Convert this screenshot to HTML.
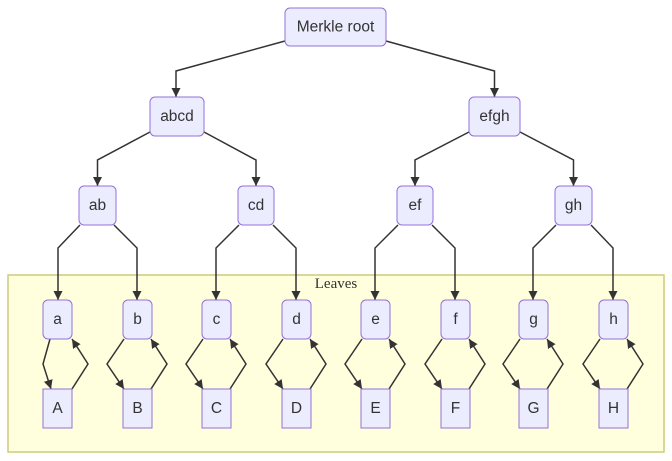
<!DOCTYPE html>
<html><head><meta charset="utf-8"><style>
html,body{margin:0;padding:0;background:#fff;width:672px;height:461px;overflow:hidden}
svg{display:block}
.n{fill:#ECECFF;stroke:#9370DB;stroke-width:1}
.t{font-family:"Liberation Sans",sans-serif;font-size:15.5px;fill:#333;text-anchor:middle;dominant-baseline:central}
.e{fill:none;stroke:#333;stroke-width:1.5}
</style></head><body>
<svg width="672" height="461" viewBox="0 0 672 461" xmlns="http://www.w3.org/2000/svg">
<defs><marker id="ar" viewBox="0 0 10 10" refX="10" refY="5" markerWidth="9" markerHeight="9" markerUnits="userSpaceOnUse" orient="auto"><path d="M0,0L10,5L0,10z" fill="#333"/></marker></defs>
<rect x="8" y="275" width="656" height="177" fill="#FFFFDE" stroke="#CCCC7A" stroke-width="1.5"/>
<text x="336" y="284" font-family="Liberation Serif,serif" font-size="15" fill="#333" text-anchor="middle" dominant-baseline="central">Leaves</text>
<g marker-end="url(#ar)">
<path class="e" d="M285,41L176,71L176,97"/>
<path class="e" d="M386,41L494.5,71L494.5,97"/>
<path class="e" d="M150,132L97.5,160L97.5,186"/>
<path class="e" d="M204,132L256,160L256,186"/>
<path class="e" d="M469,132L415,160L415,186"/>
<path class="e" d="M520,132L573.5,160L573.5,186"/>
<path class="e" d="M80,225L58,248L58,300"/>
<path class="e" d="M114,225L137,248L137,300"/>
<path class="e" d="M239,225L216,248L216,300"/>
<path class="e" d="M273,225L296,248L296,300"/>
<path class="e" d="M398,225L375,248L375,300"/>
<path class="e" d="M432,225L455,248L455,300"/>
<path class="e" d="M556,225L533,248L533,300"/>
<path class="e" d="M591,225L613,248L613,300"/>
<path class="e" d="M50,339L43,364L51,389"/>
<path class="e" d="M72,389L88,364L72,339"/>
<path class="e" d="M124,339L107,364L124,389"/>
<path class="e" d="M151,389L167,364L151,339"/>
<path class="e" d="M203,339L186,364L203,389"/>
<path class="e" d="M230,389L246,364L230,339"/>
<path class="e" d="M283,339L266,364L283,389"/>
<path class="e" d="M310,389L326,364L310,339"/>
<path class="e" d="M362,339L345,364L362,389"/>
<path class="e" d="M389,389L405,364L389,339"/>
<path class="e" d="M442,339L425,364L442,389"/>
<path class="e" d="M469,389L485,364L469,339"/>
<path class="e" d="M520,339L503,364L520,389"/>
<path class="e" d="M547,389L563,364L547,339"/>
<path class="e" d="M600,339L583,364L600,389"/>
<path class="e" d="M627,389L643,364L627,339"/>
</g>
<rect class="n" x="285" y="8" width="101" height="38" rx="5"/><text class="t" x="335.5" y="27">Merkle root</text>
<rect class="n" x="150" y="97" width="54" height="39" rx="5"/><text class="t" x="177" y="116.5">abcd</text>
<rect class="n" x="469" y="97" width="51" height="39" rx="5"/><text class="t" x="494.5" y="116.5">efgh</text>
<rect class="n" x="79" y="186" width="37" height="39" rx="5"/><text class="t" x="97.5" y="205.5">ab</text>
<rect class="n" x="238" y="186" width="36" height="39" rx="5"/><text class="t" x="256" y="205.5">cd</text>
<rect class="n" x="397" y="186" width="36" height="39" rx="5"/><text class="t" x="415" y="205.5">ef</text>
<rect class="n" x="555" y="186" width="37" height="39" rx="5"/><text class="t" x="573.5" y="205.5">gh</text>
<g>
<rect class="n" x="43" y="300" width="29" height="39" rx="5"/><text class="t" x="57.5" y="319.5">a</text>
<rect class="n" x="123" y="300" width="29" height="39" rx="5"/><text class="t" x="137.5" y="319.5">b</text>
<rect class="n" x="202" y="300" width="29" height="39" rx="5"/><text class="t" x="216.5" y="319.5">c</text>
<rect class="n" x="282" y="300" width="29" height="39" rx="5"/><text class="t" x="296.5" y="319.5">d</text>
<rect class="n" x="361" y="300" width="29" height="39" rx="5"/><text class="t" x="375.5" y="319.5">e</text>
<rect class="n" x="441" y="300" width="29" height="39" rx="5"/><text class="t" x="455.5" y="319.5">f</text>
<rect class="n" x="519" y="300" width="29" height="39" rx="5"/><text class="t" x="533.5" y="319.5">g</text>
<rect class="n" x="599" y="300" width="29" height="39" rx="5"/><text class="t" x="613.5" y="319.5">h</text>
<rect class="n" x="43" y="389" width="29" height="39"/><text class="t" x="57.5" y="408.5">A</text>
<rect class="n" x="123" y="389" width="29" height="39"/><text class="t" x="137.5" y="408.5">B</text>
<rect class="n" x="202" y="389" width="29" height="39"/><text class="t" x="216.5" y="408.5">C</text>
<rect class="n" x="282" y="389" width="29" height="39"/><text class="t" x="296.5" y="408.5">D</text>
<rect class="n" x="361" y="389" width="29" height="39"/><text class="t" x="375.5" y="408.5">E</text>
<rect class="n" x="441" y="389" width="29" height="39"/><text class="t" x="455.5" y="408.5">F</text>
<rect class="n" x="519" y="389" width="29" height="39"/><text class="t" x="533.5" y="408.5">G</text>
<rect class="n" x="599" y="389" width="29" height="39"/><text class="t" x="613.5" y="408.5">H</text>
</g>
</svg>
</body></html>
